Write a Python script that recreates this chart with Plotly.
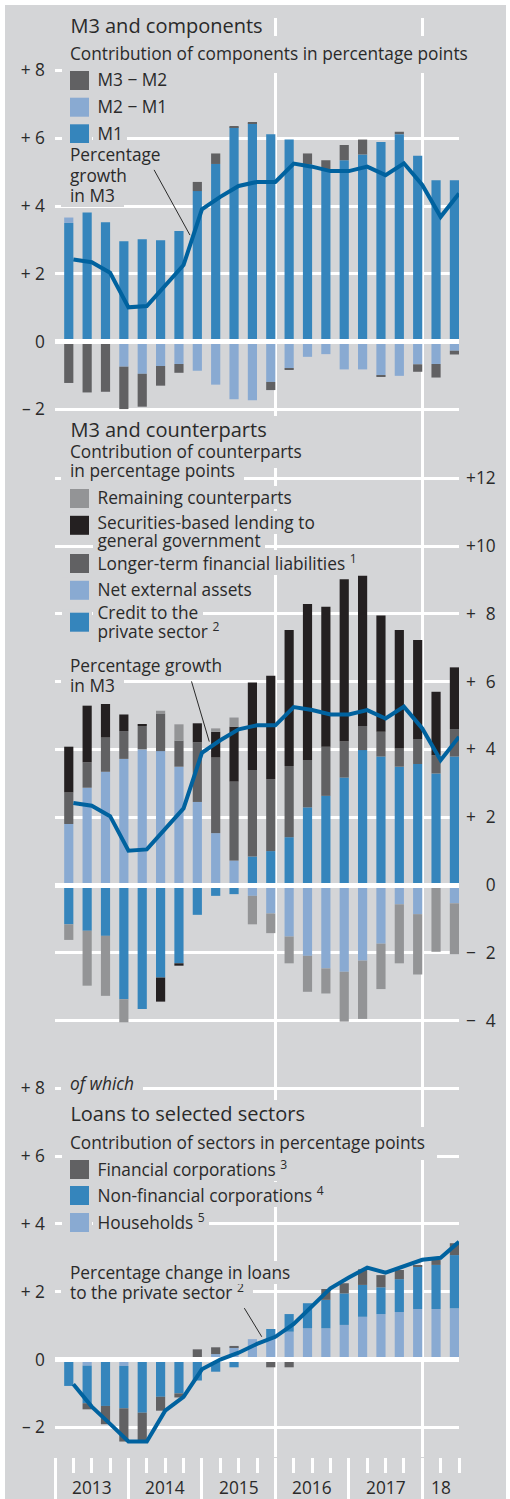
import plotly.graph_objects as go

# ---------------- data ----------------
quarters = ["2013 Q1", "2013 Q2", "2013 Q3", "2013 Q4", "2014 Q1", "2014 Q2", "2014 Q3", "2014 Q4",
            "2015 Q1", "2015 Q2", "2015 Q3", "2015 Q4", "2016 Q1", "2016 Q2", "2016 Q3", "2016 Q4",
            "2017 Q1", "2017 Q2", "2017 Q3", "2017 Q4", "2018 Q1", "2018 Q2"]

# Panel 1: M3 and components
m1 = [3.50, 3.81, 3.52, 2.96, 3.02, 2.99, 3.26, 4.44, 5.24, 6.32, 6.44, 6.12,
      5.96, 5.23, 5.06, 5.35, 5.52, 5.89, 6.12, 5.48, 4.76, 4.76]
m2_m1 = [0.16, 0.00, 0.00, -0.74, -0.95, -0.72, -0.66, -0.86, -1.27, -1.70, -1.73, -1.19,
         -0.79, -0.45, -0.37, -0.82, -0.82, -0.99, -1.01, -0.67, -0.66, -0.27]
m3_m2 = [-1.22, -1.50, -1.48, -1.25, -0.97, -0.58, -0.26, 0.27, 0.31, 0.04, 0.03, -0.24,
         -0.03, 0.32, 0.29, 0.45, 0.44, -0.05, 0.07, -0.22, -0.40, -0.11]
m3_growth = [2.42, 2.34, 2.03, 1.01, 1.05, 1.64, 2.26, 3.90, 4.27, 4.59, 4.71, 4.71,
             5.25, 5.16, 5.03, 5.03, 5.16, 4.91, 5.26, 4.62, 3.68, 4.37]

# Panel 2: M3 and counterparts
credit_private = [-1.16, -1.35, -1.50, -3.37, -3.66, -2.73, -2.31, -0.88, -0.32, -0.27, 0.84, 1.00,
                  1.41, 2.29, 2.63, 3.17, 3.98, 3.79, 3.49, 3.57, 3.29, 3.79]
net_external = [1.80, 2.87, 3.34, 3.72, 4.00, 3.95, 3.49, 2.45, 1.53, 0.72, -0.32, -0.84,
                -1.52, -2.09, -2.46, -2.56, -2.23, -1.73, -0.57, -0.86, 0.00, -0.54]
longer_term = [0.93, 0.75, 1.01, 0.82, 0.69, 1.11, 0.77, 1.76, 2.23, 2.33, 2.55, 2.12,
               2.10, 1.40, 1.45, 1.06, 0.71, 0.73, 0.54, 0.74, 0.54, 0.81]
securities_gov = [1.35, 1.67, 0.99, 0.49, 0.06, -0.71, -0.07, 0.56, 0.76, 1.62, 2.58, 3.05,
                  4.01, 4.60, 4.13, 4.79, 4.43, 3.43, 3.49, 2.92, 1.87, 1.82]
remaining = [-0.46, -1.62, -1.77, -0.68, 0.00, 0.08, 0.48, 0.00, 0.10, 0.27, -0.84, -0.58,
             -0.79, -1.06, -0.74, -1.47, -1.72, -1.34, -1.74, -1.78, -1.97, -1.50]

# Panel 3: Loans to selected sectors
households = [0.00, -0.18, -0.05, -0.19, -0.05, 0.00, 0.00, 0.00, 0.16, 0.36, 0.60, 0.60,
              0.82, 0.92, 0.92, 1.02, 1.26, 1.34, 1.40, 1.49, 1.49, 1.51]
nonfin_corp = [-0.78, -1.11, -1.32, -1.25, -1.52, -1.10, -1.00, -0.62, -0.36, -0.23, 0.00, 0.30,
               0.52, 0.74, 0.84, 0.93, 0.94, 0.79, 0.97, 1.25, 1.30, 1.57]
fin_corp = [0.00, -0.18, -0.54, -0.98, -0.85, -0.41, -0.12, 0.30, 0.20, 0.04, -0.03, -0.23,
            -0.23, 0.00, 0.32, 0.30, 0.46, 0.36, 0.27, 0.04, 0.15, 0.35]
loans_growth = [-0.73, -1.39, -1.90, -2.42, -2.42, -1.51, -1.10, -0.29, 0.00, 0.20, 0.46, 0.67,
                1.05, 1.58, 2.10, 2.42, 2.71, 2.56, 2.74, 2.94, 3.00, 3.47]

year_labels = ["2013", "2014", "2015", "2016", "2017", "18"]
year_label_pos = [2, 6, 10, 14, 18, 21]           # in quarter units
year_boundaries = [0, 4, 8, 12, 16, 20]
vgrid_pos = [12, 20]

ticks_left = [-2, 0, 2, 4, 6, 8]
ticktext_left = ["– 2", "0", "+ 2", "+ 4", "+ 6", "+ 8"]
ticks_mid = [-4, -2, 0, 2, 4, 6, 8, 10, 12]
ticktext_mid = ["−\u20074", "−\u20072", "\u2007\u20070", "+\u20072", "+\u20074", "+\u20076",
                "+\u20078", "+10", "+12"]

# ---------------- style / geometry ----------------
W, H = 510, 1499
BG = "#d4d5d7"
TXT = "#2a2a2a"
FONT = "Open Sans"
FS = 17.3
TITLE = 20
C_BLUE = "#3585bc"
C_LIGHT = "#89aad2"
C_DARK = "#616163"
C_MID = "#939496"
C_BLACK = "#242021"
C_LINE = "#00629f"

X0, X1 = 55, 459          # px extent of the time axis
UNIT = 33.9               # px per percentage point
panels = {                # top px, bottom px, zero px
    1: (18, 425, 341.6),
    2: (425, 1045, 885.0),
    3: (1045, 1457, 1359.5),
}

def py(p):
    return 1 - p / H

def pxx(p):
    return p / W

n = len(quarters)
xbar = [i + 0.75 for i in range(n)]
xline = [i + 1 for i in range(n)]

fig = go.Figure()

def add_bars(vals, name, color, k):
    fig.add_trace(go.Bar(x=xbar, y=vals, name=name, width=0.5, marker=dict(color=color, line=dict(width=0)),
                         xaxis="x" if k == 1 else f"x{k}", yaxis="y" if k == 1 else f"y{k}",
                         showlegend=False, hovertext=quarters))

add_bars(m1, "M1", C_BLUE, 1)
add_bars(m2_m1, "M2−M1", C_LIGHT, 1)
add_bars(m3_m2, "M3−M2", C_DARK, 1)

add_bars(credit_private, "Credit to the private sector", C_BLUE, 2)
add_bars(net_external, "Net external assets", C_LIGHT, 2)
add_bars(longer_term, "Longer-term financial liabilities", C_DARK, 2)
add_bars(securities_gov, "Securities-based lending to general government", C_BLACK, 2)
add_bars(remaining, "Remaining counterparts", C_MID, 2)

add_bars(households, "Households", C_LIGHT, 3)
add_bars(nonfin_corp, "Non-financial corporations", C_BLUE, 3)
add_bars(fin_corp, "Financial corporations", C_DARK, 3)

for vals, k in [(m3_growth, 4), (m3_growth, 5), (loans_growth, 6)]:
    fig.add_trace(go.Scatter(x=xline, y=vals, mode="lines", line=dict(color=C_LINE, width=4),
                             xaxis=f"x{k}", yaxis=f"y{k}", showlegend=False, hovertext=quarters))

layout = dict(width=W, height=H, margin=dict(l=0, r=0, t=0, b=0), paper_bgcolor="white",
              plot_bgcolor="rgba(0,0,0,0)", barmode="relative", showlegend=False,
              font=dict(family=FONT, size=FS, color=TXT))

xdom = [X0 / W, X1 / W]
for k in range(1, 7):
    top, bot, zero = panels[(k - 1) % 3 + 1]
    rng = [-(bot - zero) / UNIT, (zero - top) / UNIT]
    ydom = [py(bot), py(top)]
    xname = "xaxis" if k == 1 else f"xaxis{k}"
    yname = "yaxis" if k == 1 else f"yaxis{k}"
    ya = "y" if k == 1 else f"y{k}"
    xa = "x" if k == 1 else f"x{k}"
    xax = dict(domain=xdom, range=[0, n], anchor=ya, showline=False, zeroline=False,
               showticklabels=False, ticks="", fixedrange=True)
    yax = dict(domain=ydom, range=rng, anchor=xa, showline=False, fixedrange=True)
    if k <= 3:
        xax.update(tickmode="array", tickvals=vgrid_pos, showgrid=True, gridcolor="white", gridwidth=2.5)
        yax.update(showgrid=True, gridcolor="white", gridwidth=3, zeroline=False, ticks="",
                   tickmode="array", tickfont=dict(family=FONT, size=FS, color=TXT))
        if k == 2:
            yax.update(side="right", tickvals=ticks_mid, ticktext=ticktext_mid, ticklabelstandoff=6)
        else:
            yax.update(tickvals=ticks_left, ticktext=ticktext_left, ticklabelstandoff=9)
    else:
        xax.update(showgrid=False)
        yax.update(showgrid=False, zeroline=True, zerolinecolor="white", zerolinewidth=5,
                   showticklabels=False, ticks="")
        if k == 6:
            xax.update(tickmode="array", tickvals=year_boundaries, ticks="outside", ticklen=42,
                       tickwidth=3, tickcolor="white",
                       minor=dict(tickmode="array", tickvals=list(range(n + 1)), ticks="outside",
                                  ticklen=15, tickwidth=3, tickcolor="white", showgrid=False))
    layout[xname] = xax
    layout[yname] = yax

fig.update_layout(**layout)

# background panel
fig.add_shape(type="rect", xref="paper", yref="paper", x0=pxx(5), x1=pxx(506), y0=py(1499), y1=py(5),
              fillcolor=BG, line=dict(width=0), layer="below")

# extra masks behind text blocks (hide grid lines like the original's text boxes)
masks = [(62, 470, 36, 73), (62, 310, 437, 468), (62, 437, 1127, 1160)]
for x0, x1, y0, y1 in masks:
    fig.add_shape(type="rect", xref="paper", yref="paper", x0=pxx(x0), x1=pxx(x1), y0=py(y1), y1=py(y0),
                  fillcolor=BG, line=dict(width=0), layer="above")

# legend swatches (mask + colour square)
swatches = [
    (80.5, C_DARK), (107.2, C_LIGHT), (133.8, C_BLUE),
    (498.5, C_MID), (525.3, C_BLACK), (563.5, C_DARK), (590.3, C_LIGHT), (622.2, C_BLUE),
    (1169.5, C_DARK), (1195.5, C_BLUE), (1222.5, C_LIGHT),
]
for cy, col in swatches:
    fig.add_shape(type="rect", xref="paper", yref="paper", x0=pxx(62), x1=pxx(92), y0=py(cy + 13),
                  y1=py(cy - 13), fillcolor=BG, line=dict(width=0), layer="above")
    fig.add_shape(type="rect", xref="paper", yref="paper", x0=pxx(70), x1=pxx(89), y0=py(cy + 9.5),
                  y1=py(cy - 9.5), fillcolor=col, line=dict(width=0), layer="above")

NB = "\u00a0"
texts = [
    # (left px, center px, text, size, nbsp padding)
    (70, 25.7, "M3 and components", TITLE, 2),
    (70, 53.7, "Contribution of components in percentage points", FS, 2),
    (97, 80.5, "M3 − M2", FS, 1),
    (97, 107.2, "M2 − M1", FS, 1),
    (97, 133.8, "M1", FS, 1),
    (70, 155.5, "Percentage", FS, 2),
    (70, 176.0, "growth", FS, 2),
    (70, 196.0, "in M3", FS, 2),

    (70, 430.5, "M3 and counterparts", TITLE, 2),
    (70, 452.0, "Contribution of counterparts", FS, 2),
    (70, 471.0, "in percentage points", FS, 2),
    (97, 498.5, "Remaining counterparts", FS, 1),
    (97, 523.0, "Securities-based lending to", FS, 1),
    (97, 541.0, "general government", FS, 1),
    (97, 563.5, "Longer-term financial liabilities <sup>1</sup>", FS, 1),
    (97, 590.3, "Net external assets", FS, 1),
    (97, 613.5, "Credit to the", FS, 1),
    (97, 631.5, "private sector <sup>2</sup>", FS, 1),
    (70, 666.5, "Percentage growth", FS, 2),
    (70, 686.5, "in M3", FS, 2),

    (70, 1084.5, "<i>of which</i>", FS, 2),
    (70, 1114.0, "Loans to selected sectors", TITLE, 2),
    (70, 1142.7, "Contribution of sectors in percentage points", FS, 2),
    (97, 1169.5, "Financial corporations <sup>3</sup>", FS, 1),
    (97, 1195.5, "Non-financial corporations <sup>4</sup>", FS, 1),
    (97, 1222.5, "Households <sup>5</sup>", FS, 1),
    (70, 1273.0, "Percentage change in loans", FS, 2),
    (70, 1291.7, "to the private sector <sup>2</sup>", FS, 2),
]
# draw from the bottom up so that a line's box never hides the line above it
for lx, cy, t, size, padn in sorted(texts, key=lambda r: -r[1]):
    pad_px = padn * 0.26 * size
    fig.add_annotation(xref="paper", yref="paper", x=pxx(lx - pad_px), y=py(cy - 0.6), xanchor="left",
                       yanchor="middle", text=NB * padn + t + NB * padn, showarrow=False, align="left",
                       font=dict(family=FONT, size=size, color=TXT), bgcolor=BG, borderpad=0,
                       borderwidth=0)

# year labels on the time axis
for pos, lab in zip(year_label_pos, year_labels):
    fig.add_annotation(xref="x3", yref="paper", x=pos, y=py(1487.5), text=lab, showarrow=False,
                       xanchor="center", yanchor="middle", font=dict(family=FONT, size=FS, color=TXT))

# leader lines from labels to the curves
leaders = [("x4", "y4", 5.35, 5.11, 7.35, 3.14),
           ("x5", "y5", 7.41, 6.05, 8.40, 4.23),
           ("x6", "y6", 10.26, 1.56, 11.26, 0.67)]
for xr, yr, ax, ay, x, y in leaders:
    fig.add_annotation(xref=xr, yref=yr, axref=xr, ayref=yr, x=x, y=y, ax=ax, ay=ay, text="",
                       showarrow=True, arrowhead=0, arrowwidth=1, arrowcolor=TXT,
                       standoff=0, startstandoff=0)

fig.write_html("out.html")
